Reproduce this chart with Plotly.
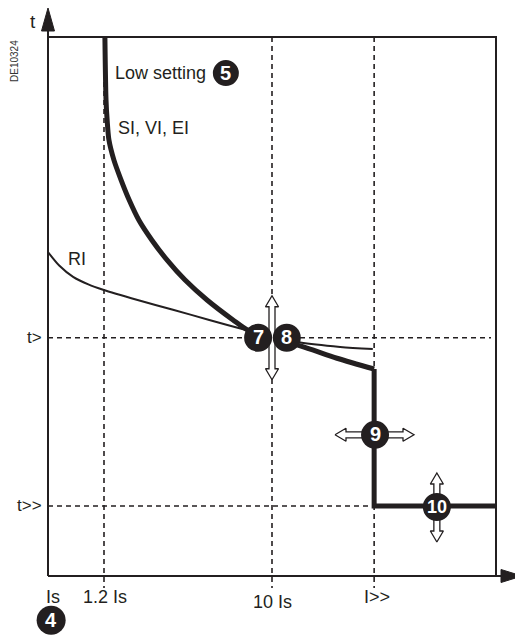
import plotly.graph_objects as go

# ---------------- data (chart units: frame spans 0..100 on both axes) -------------
X_TICK_LABELS = ["Is", "1.2 Is", "10 Is", "I>>"]
X_TICK_POS = [0.0, 12.5, 50.0, 72.8]          # current settings along I axis
Y_LEVEL_LABELS = ["t>", "t>>"]
Y_LEVEL_POS = [44.2, 13.0]                     # time delays

# SI, VI, EI (thick) IDMT curve
IDMT_X = [12.7, 12.95, 13.2, 13.6, 14.7, 16.3, 18.1, 20.3, 23.2, 26.6, 30.6, 35.5,
          41.3, 44.6, 50.0, 56.3, 64.5, 72.8]
IDMT_Y = [100.0, 88.3, 84.6, 80.9, 77.2, 73.5, 69.8, 66.0, 62.3, 58.6, 54.9, 51.2,
          47.5, 45.6, 44.0, 42.7, 40.4, 38.4]
# definite-time steps (I>> / t>>)
STEP_X = [72.8, 72.8, 100.0]
STEP_Y = [38.4, 13.0, 13.0]
# RI (thin) curve
RI_X = [0.0, 2.5, 5.6, 9.0, 12.3, 20.0, 27.9, 36.0, 44.4, 50.0, 56.3, 65.2, 72.5]
RI_Y = [60.1, 57.6, 55.5, 54.1, 53.1, 51.2, 49.4, 47.5, 45.6, 44.4, 43.3, 42.5, 42.1]

# numbered callouts
CALLOUT_NUM = ["4", "5", "7", "8", "9", "10"]
CALLOUT_X = [0.7, 39.7, 46.9, 53.3, 73.0, 86.8]
CALLOUT_Y = [-8.2, 93.3, 44.2, 44.2, 26.2, 12.8]
CALLOUT_D = [29, 26, 28, 28, 28, 28]

INK = "#231f20"
FONT = "Liberation Sans, Arial, Helvetica, sans-serif"

W, H = 523, 639
PAGE_OFF = 8                 # the page body margin shifts the figure by 8 px
PX_X = 4.48                  # px per chart unit (frame 448 px wide)
PX_Y = 5.39                  # px per chart unit (frame 539 px tall)
X0_PX, Y0_PX = 48 - PAGE_OFF, 576 - PAGE_OFF
XR = [-X0_PX / PX_X, (W - X0_PX) / PX_X]
YR = [(Y0_PX - H) / PX_Y, Y0_PX / PX_Y]


def sx(px):  # screen pixel -> chart units (for decorations only)
    return (px - 48) / PX_X


def sy(py):
    return (576 - py) / PX_Y


fig = go.Figure()

# dashed reference lines
dash = dict(color=INK, width=1.6, dash="5px,4px")
for xv in X_TICK_POS[1:]:
    fig.add_trace(go.Scatter(x=[xv, xv], y=[100, sy(588)], mode="lines", line=dash,
                             hoverinfo="skip", showlegend=False))
fig.add_trace(go.Scatter(x=[0, sx(491)], y=[Y_LEVEL_POS[0]] * 2, mode="lines", line=dash,
                         hoverinfo="skip", showlegend=False))
fig.add_trace(go.Scatter(x=[0, X_TICK_POS[3]], y=[Y_LEVEL_POS[1]] * 2, mode="lines", line=dash,
                         hoverinfo="skip", showlegend=False))

# frame (top and right) + axes (left and bottom)
fig.add_trace(go.Scatter(x=[0, 100, 100], y=[100, 100, 0], mode="lines",
                         line=dict(color=INK, width=2), hoverinfo="skip", showlegend=False))
fig.add_trace(go.Scatter(x=[0, 0], y=[0, sy(26)], mode="lines",
                         line=dict(color=INK, width=2), hoverinfo="skip", showlegend=False))
fig.add_trace(go.Scatter(x=[0, sx(506)], y=[0, 0], mode="lines",
                         line=dict(color=INK, width=2), hoverinfo="skip", showlegend=False))
# axis arrowheads
ah = 6.5
fig.add_trace(go.Scatter(
    x=[0, -ah / PX_X, ah / PX_X, 0],
    y=[sy(8), sy(31), sy(31), sy(8)],
    mode="lines", fill="toself", fillcolor=INK, line=dict(color=INK, width=1),
    hoverinfo="skip", showlegend=False))
fig.add_trace(go.Scatter(
    x=[sx(522), sx(501), sx(501), sx(522)],
    y=[0, ah / PX_Y, -ah / PX_Y, 0],
    mode="lines", fill="toself", fillcolor=INK, line=dict(color=INK, width=1),
    hoverinfo="skip", showlegend=False))

# curves
fig.add_trace(go.Scatter(x=RI_X, y=RI_Y, mode="lines",
                         line=dict(color=INK, width=2, shape="spline", smoothing=0.8),
                         hoverinfo="skip", showlegend=False))
fig.add_trace(go.Scatter(x=IDMT_X, y=IDMT_Y, mode="lines",
                         line=dict(color=INK, width=5, shape="spline", smoothing=0.8),
                         hoverinfo="skip", showlegend=False))
fig.add_trace(go.Scatter(x=STEP_X, y=STEP_Y, mode="lines",
                         line=dict(color=INK, width=5),
                         hoverinfo="skip", showlegend=False))


# hollow double-headed adjustment arrows
def double_arrow(cx, cy, length_px, horizontal):
    L2, h, w, a = length_px / 2, 11, 6.5, 3
    s = [-L2, -L2 + h, -L2 + h, L2 - h, L2 - h, L2, L2 - h, L2 - h, -L2 + h, -L2 + h, -L2]
    p = [0, w, a, a, w, 0, -w, -a, -a, -w, 0]
    if horizontal:
        xs = [cx + v / PX_X for v in s]
        ys = [cy + v / PX_Y for v in p]
    else:
        xs = [cx + v / PX_X for v in p]
        ys = [cy + v / PX_Y for v in s]
    return xs, ys


ARROWS = [  # (centre x, centre y, length px, horizontal)
    (X_TICK_POS[2], Y_LEVEL_POS[0], 84, False),
    (sx(374.5), CALLOUT_Y[4], 79, True),
    (CALLOUT_X[5], sy(507.5), 69, False),
]
for cx, cy, ln, hz in ARROWS:
    xs, ys = double_arrow(cx, cy, ln, hz)
    fig.add_trace(go.Scatter(x=xs, y=ys, mode="lines", fill="toself", fillcolor="white",
                             line=dict(color=INK, width=1.3), hoverinfo="skip", showlegend=False))

# numbered black discs (shapes above traces) with white bold numbers
for num, cx, cy, d in zip(CALLOUT_NUM, CALLOUT_X, CALLOUT_Y, CALLOUT_D):
    fig.add_shape(type="circle", xref="x", yref="y", xsizemode="pixel", ysizemode="pixel",
                  xanchor=cx, yanchor=cy, x0=-d / 2, x1=d / 2, y0=-d / 2, y1=d / 2,
                  fillcolor=INK, line=dict(width=0), layer="above")
    fig.add_annotation(x=cx, y=cy, text="<b>%s</b>" % num, showarrow=False,
                       xanchor="center", yanchor="middle", yshift=0.5,
                       font=dict(family=FONT, size=18 if len(num) > 1 else 20, color="white"))


# text labels
def label(x, y, text, size=18, xanchor="center", angle=0, color=INK):
    fig.add_annotation(x=x, y=y, text=text, showarrow=False, xanchor=xanchor,
                       yanchor="middle", textangle=angle,
                       font=dict(family=FONT, size=size, color=color))


label(sx(33), sy(21), "t", size=19)
label(sx(14), sy(61), "DE10324", size=10, angle=-90, color="#333333")
for txt, yv in zip(Y_LEVEL_LABELS, Y_LEVEL_POS):
    label(sx(44), yv, txt, size=17, xanchor="right")
LABEL_X_PX = [53, 105, 272, 377]
LABEL_Y_PX = [597, 597, 602, 597]
for txt, lx, ly in zip(X_TICK_LABELS, LABEL_X_PX, LABEL_Y_PX):
    label(sx(lx), sy(ly), txt, size=18)
label(sx(520), sy(597), "I", size=18)
label(sx(77), sy(259), "RI", size=18)
label(sx(113), sy(73), "Low setting", size=18, xanchor="left")
label(sx(116), sy(128), "SI, VI, EI", size=18, xanchor="left")

fig.update_layout(
    width=W, height=H,
    margin=dict(l=0, r=0, t=0, b=0),
    paper_bgcolor="white", plot_bgcolor="white",
    xaxis=dict(range=XR, visible=False, fixedrange=True),
    yaxis=dict(range=YR, visible=False, fixedrange=True),
    showlegend=False,
)

fig.write_html("out.html")
